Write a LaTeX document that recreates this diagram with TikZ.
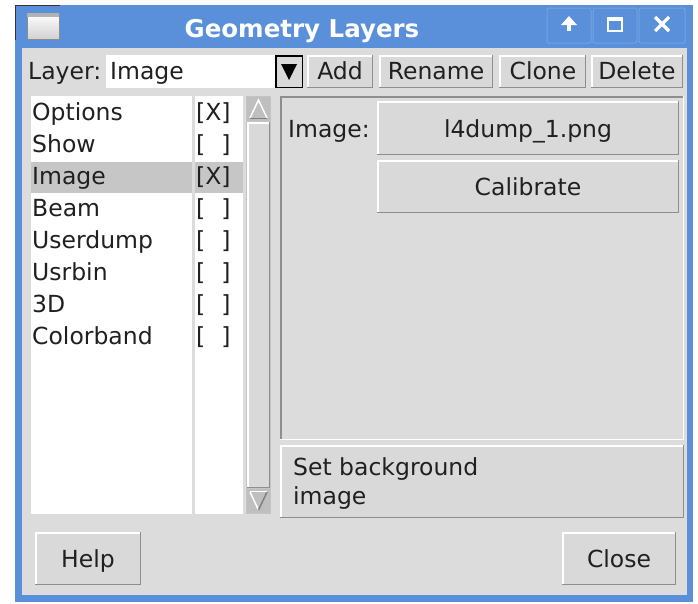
\documentclass[tikz,border=0pt]{standalone}
\usepackage{fontspec}
\setmainfont{DejaVu Sans}
\definecolor{winblue}{HTML}{5A8FDA}
\definecolor{winblueedge}{HTML}{74A2E2}
\definecolor{winbg}{HTML}{DCDCDC}
\definecolor{btnface}{HTML}{D9D9D9}
\definecolor{btnshadow}{HTML}{8E8E8E}
\definecolor{selrow}{HTML}{C6C6C6}
\definecolor{trough}{HTML}{C4C4C4}
\definecolor{txt}{HTML}{202020}

% raised widget: x1 y1 (top-left) x2 y2 (bottom-right), y grows downward
\newcommand\raisedpanel[4]{%
  \fill[btnface] (#1,#2) rectangle (#3,#4);
  \draw[white,line width=1.5pt] (#1+0.75,#4) -- (#1+0.75,#2+0.75) -- (#3,#2+0.75);
  \draw[btnshadow,line width=1.5pt] (#1,#4-0.75) -- (#3-0.75,#4-0.75) -- (#3-0.75,#2);
}
% sunken frame
\newcommand\sunkenpanel[4]{%
  \draw[btnshadow,line width=1.5pt] (#1+0.75,#4) -- (#1+0.75,#2+0.75) -- (#3,#2+0.75);
  \draw[white,line width=1.5pt] (#1,#4-0.75) -- (#3-0.75,#4-0.75) -- (#3-0.75,#2);
}

\tikzset{
  lbl/.style={anchor=base west, inner sep=0pt, text=txt, font=\fontsize{23.5}{28}\selectfont},
  ctr/.style={anchor=base, inner sep=0pt, text=txt, font=\fontsize{23.5}{28}\selectfont},
  titletext/.style={anchor=base, inner sep=0pt, text=white, font=\fontsize{24.5}{29}\selectfont\bfseries},
  tbtn/.style={draw=winblueedge, line width=1pt, rounded corners=2pt},
  tsym/.style={white, line width=3.2pt},
}

\begin{document}
\begin{tikzpicture}[x=1pt,y=-1pt]
\useasboundingbox (0,0) rectangle (698,603);
\fill[white] (0,0) rectangle (698,603);

% window frame and client area
\fill[winblue] (15,5) rectangle (693,602);
\draw[black!80,line width=1pt] (15.5,40) -- (15.5,5.5) -- (60,5.5);
\fill[winbg] (22,48) rectangle (687,595);

% title bar
\shade[top color=white, bottom color=black!18] (27,13) rectangle (59,39);
\draw[black!45,line width=1pt] (27,13) rectangle (59,39);
\fill[black!30] (27,13) rectangle (59,17);
\node[titletext] (title) at (302,37) {Geometry Layers};
\draw[tbtn] (547,8) rectangle (591,43);
\draw[tbtn] (593,8) rectangle (637,43);
\draw[tbtn] (639,8) rectangle (685,43);
\fill[white] (561,25) -- (569,16) -- (577,25) -- cycle;
\draw[tsym,line width=4pt] (569,31) -- (569,21);
\draw[white,line width=2pt] (608,18) rectangle (622,31);
\draw[white,line width=3pt] (608,19) -- (622,19);
\draw[tsym] (655,17) -- (669,31);
\draw[tsym] (655,31) -- (669,17);

% layer selector row
\node[lbl] (layerlbl) at (28,79) {Layer:};
\fill[white] (106,55) rectangle (275,88);
\node[lbl] (layerval) at (110,79) {Image};
\fill[btnface] (275,55) rectangle (303,88);
\draw[black,line width=1.5pt] (275.75,55.75) rectangle (302.25,87.25);
\fill[black] (281,64) -- (297,64) -- (289,80) -- cycle;
\raisedpanel{307}{55}{373}{88}
\node[ctr] (addbtn) at (340,79) {Add};
\raisedpanel{379}{55}{493}{88}
\node[ctr] (renamebtn) at (436,79) {Rename};
\raisedpanel{499}{55}{586}{88}
\node[ctr] (clonebtn) at (543,79) {Clone};
\raisedpanel{591}{55}{683}{88}
\node[ctr] (deletebtn) at (637,79) {Delete};

% layer list
\fill[white] (31,96) rectangle (192,514);
\fill[white] (195,96) rectangle (243,514);
\fill[selrow] (31,162) rectangle (192,193);
\fill[selrow] (195,162) rectangle (243,193);
\node[lbl] (r1) at (32,120) {Options};
\node[lbl] (r2) at (32,152) {Show};
\node[lbl] (r3) at (32,184) {Image};
\node[lbl] (r4) at (32,216) {Beam};
\node[lbl] (r5) at (32,248) {Userdump};
\node[lbl] (r6) at (32,280) {Usrbin};
\node[lbl] (r7) at (32,312) {3D};
\node[lbl] (r8) at (32,344) {Colorband};
\node[lbl] (c1) at (196,120) {[X]};
\node[lbl] (c2) at (196,152) {[\phantom{X}]};
\node[lbl] (c3) at (196,184) {[X]};
\node[lbl] (c4) at (196,216) {[\phantom{X}]};
\node[lbl] (c5) at (196,248) {[\phantom{X}]};
\node[lbl] (c6) at (196,280) {[\phantom{X}]};
\node[lbl] (c7) at (196,312) {[\phantom{X}]};
\node[lbl] (c8) at (196,344) {[\phantom{X}]};

% scrollbar
\fill[trough] (246,96) rectangle (271,514);
\fill[black!25] (247,97) rectangle (270,121);
\draw[white,line width=1.5pt] (250,118) -- (258.5,100) -- (267,118);
\draw[black!50,line width=1.2pt] (250,118.5) -- (267,118.5);
\raisedpanel{247}{122}{270}{488}
\fill[black!25] (247,489) rectangle (270,513);
\draw[white,line width=1.5pt] (250,492) -- (258.5,510);
\draw[black!50,line width=1.5pt] (258.5,510) -- (267,492);
\draw[white,line width=1.2pt] (250,491.5) -- (267,491.5);

% image settings panel
\sunkenpanel{280}{96}{684}{440}
\node[lbl] (imglbl) at (288,137) {Image:};
\raisedpanel{377}{101}{679}{155}
\node[ctr] (filebtn) at (528,137) {l4dump\_1.png};
\raisedpanel{377}{160}{679}{213}
\node[ctr] (calbtn) at (528,195) {Calibrate};

\raisedpanel{280}{445}{684}{518}
\node[lbl] (setbg1) at (293,475) {Set background};
\node[lbl] (setbg2) at (293,504) {image};

% dialog buttons
\raisedpanel{35}{532}{141}{585}
\node[ctr] (helpbtn) at (88,567) {Help};
\raisedpanel{562}{532}{676}{585}
\node[ctr] (closebtn) at (619,567) {Close};
\end{tikzpicture}
\end{document}
